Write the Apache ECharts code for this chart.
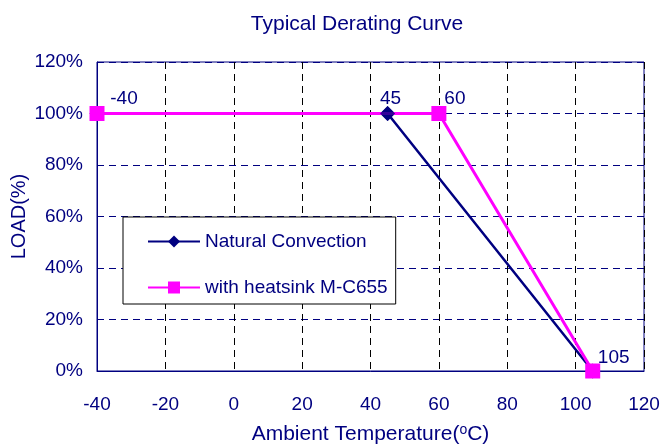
<!DOCTYPE html>
<html>
<head>
<meta charset="utf-8">
<script src="https://cdn.jsdelivr.net/npm/echarts@6/dist/echarts.min.js"></script>
<style>
html,body{margin:0;padding:0;background:#fff;}
#chart{width:663px;height:444px;}
</style>
</head>
<body>
<div id="chart"></div>
<script>
const titleText = 'Typical Derating Curve';
const seriesNames = ['Natural Convection', 'with heatsink M-C655'];
const naturalTemp = [-40, 45, 105];
const naturalLoad = [100, 100, 0];
const heatsinkTemp = [-40, 60, 105];
const heatsinkLoad = [100, 100, 0];
const naturalLabels = ['', '45', ''];
const heatsinkLabels = ['-40', '60', '105'];
const xTicks = [-40, -20, 0, 20, 40, 60, 80, 100, 120];
const yTicks = [0, 20, 40, 60, 80, 100, 120];

const NAVY = '#000080';
const MAG = '#FF00FF';
const FONT = 'Liberation Sans, Arial, sans-serif';

const labelOffsets = {
  '-40': [27, 7], '45': [3, 7], '60': [16, 7], '105': [21, 9]
};

function buildData(xs, ys, labels) {
  return xs.map((x, i) => {
    const d = { value: [x, ys[i]] };
    if (labels[i]) {
      d.label = { show: true, formatter: labels[i], position: 'top', offset: labelOffsets[labels[i]] };
    }
    return d;
  });
}

// navy diamonds that are not covered by a magenta square (drawn on top of the magenta line)
const heatsinkKeys = heatsinkTemp.map((x, i) => x + ':' + heatsinkLoad[i]);
const naturalVisibleMarkers = naturalTemp
  .map((x, i) => [x, naturalLoad[i]])
  .filter(p => heatsinkKeys.indexOf(p[0] + ':' + p[1]) < 0);

const chart = echarts.init(document.getElementById('chart'));
chart.setOption({
  animation: false,
  backgroundColor: '#fff',
  title: {
    text: titleText,
    left: 352, top: 9, textAlign: 'center',
    textStyle: { color: NAVY, fontFamily: FONT, fontSize: 21, fontWeight: 'normal' }
  },
  legend: {
    orient: 'vertical',
    left: 123, top: 217,
    padding: [15, 8, 7, 24],
    itemWidth: 52, itemHeight: 15, itemGap: 27,
    backgroundColor: '#fff',
    borderColor: '#000', borderWidth: 1,
    textStyle: { color: NAVY, fontFamily: FONT, fontSize: 19 },
    data: seriesNames
  },
  grid: {
    left: 97, right: 19, top: 62, bottom: 73,
    outerBoundsMode: 'none', containLabel: false,
    show: true, borderColor: NAVY, borderWidth: 1, backgroundColor: 'transparent'
  },
  xAxis: {
    type: 'value', min: xTicks[0], max: xTicks[xTicks.length - 1], interval: 20,
    name: 'Ambient Temperature({sup|o}C)',
    nameLocation: 'middle', nameGap: 52, nameMoveOverlap: false,
    nameTextStyle: {
      color: NAVY, fontFamily: FONT, fontSize: 21,
      rich: { sup: { color: NAVY, fontFamily: FONT, fontSize: 14, verticalAlign: 'top', padding: [0, 0, 8, 0] } }
    },
    axisLine: { show: true, onZero: false, lineStyle: { color: NAVY, width: 1 } },
    axisTick: { show: false },
    axisLabel: { color: NAVY, fontFamily: FONT, fontSize: 19, margin: 24 },
    splitLine: { show: true, lineStyle: { color: '#000', type: [7, 5], width: 1 } }
  },
  yAxis: {
    type: 'value', min: yTicks[0], max: yTicks[yTicks.length - 1], interval: 20,
    name: 'LOAD(%)',
    nameLocation: 'middle', nameGap: 68, nameMoveOverlap: false,
    nameTextStyle: { color: NAVY, fontFamily: FONT, fontSize: 20 },
    axisLine: { show: true, onZero: false, lineStyle: { color: NAVY, width: 1 } },
    axisTick: { show: false },
    axisLabel: { color: NAVY, fontFamily: FONT, fontSize: 19, margin: 14, formatter: '{value}%' },
    splitLine: { show: true, lineStyle: { color: NAVY, type: [7, 5], width: 1 } }
  },
  series: [
    {
      name: seriesNames[0], type: 'line',
      data: buildData(naturalTemp, naturalLoad, naturalLabels),
      symbol: 'diamond', symbolSize: 15,
      lineStyle: { color: NAVY, width: 2.5 },
      itemStyle: { color: NAVY },
      label: { color: NAVY, fontFamily: FONT, fontSize: 19 },
      z: 2
    },
    {
      name: seriesNames[1], type: 'line',
      data: buildData(heatsinkTemp, heatsinkLoad, heatsinkLabels),
      symbol: 'rect', symbolSize: 15,
      lineStyle: { color: MAG, width: 3 },
      itemStyle: { color: MAG },
      label: { color: NAVY, fontFamily: FONT, fontSize: 19 },
      z: 3
    },
    {
      name: seriesNames[0] + ' markers', type: 'scatter',
      data: naturalVisibleMarkers,
      symbol: 'diamond', symbolSize: 15,
      itemStyle: { color: NAVY },
      silent: true,
      z: 4
    }
  ]
});
</script>
</body>
</html>
